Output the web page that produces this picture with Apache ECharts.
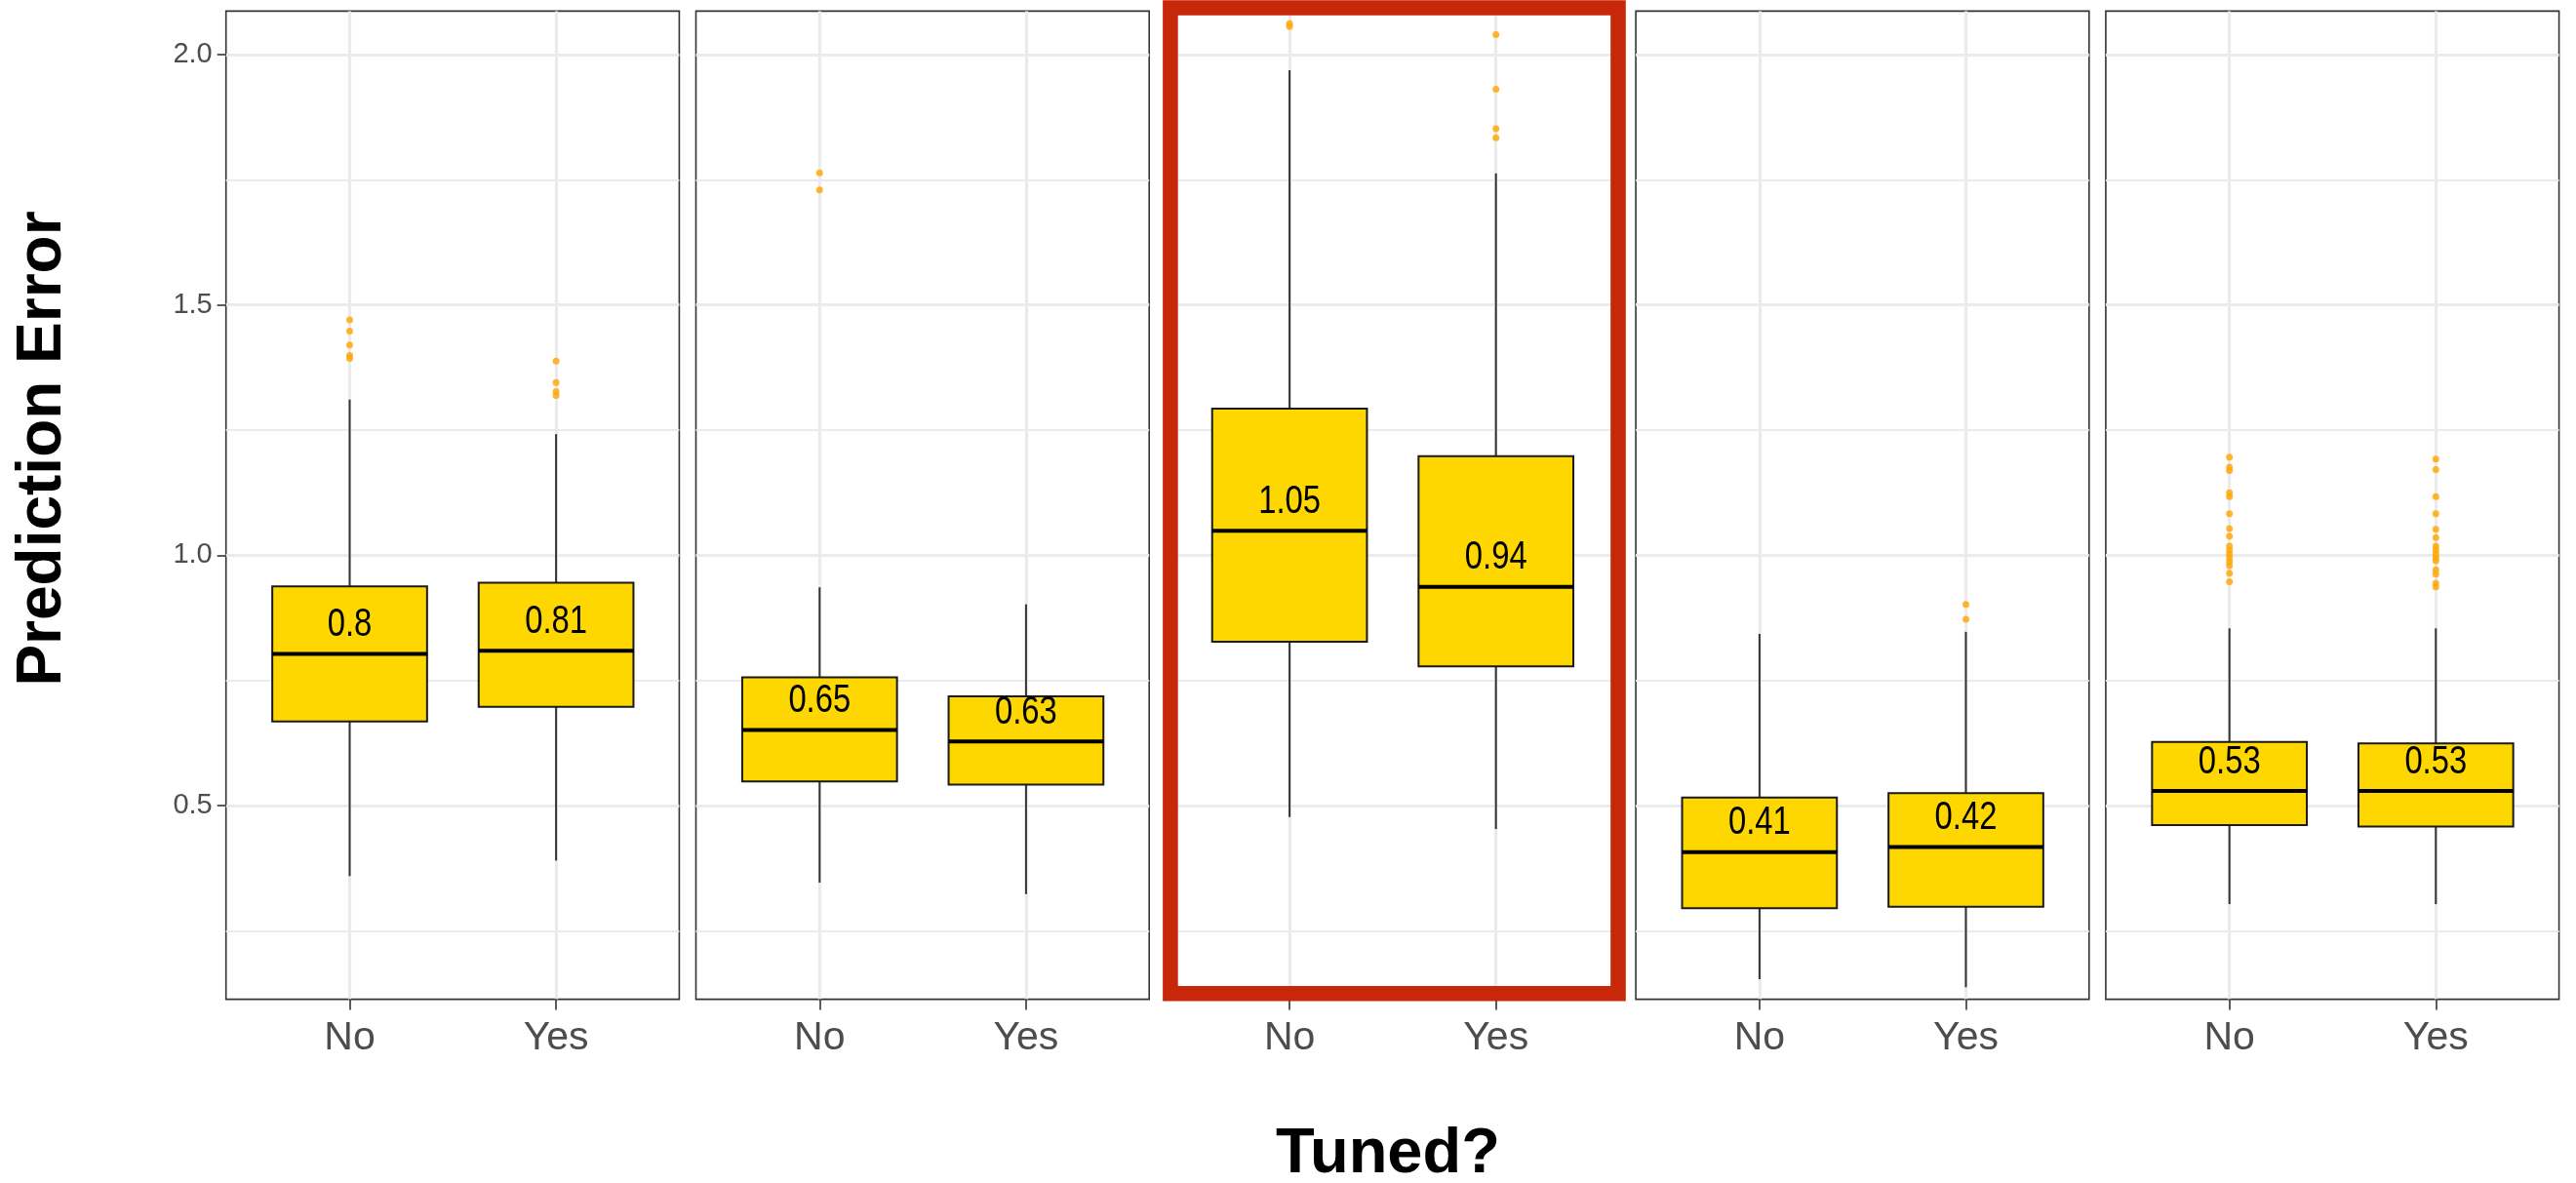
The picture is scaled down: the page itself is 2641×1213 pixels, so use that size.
<!DOCTYPE html>
<html>
<head>
<meta charset="utf-8">
<script src="https://cdn.jsdelivr.net/npm/echarts@6/dist/echarts.min.js"></script>
<style>
html,body{margin:0;padding:0;background:#fff;}
#chart{width:2641px;height:1213px;}
</style>
</head>
<body>
<div id="chart"></div>
<script>
// ---- data ----
const categories = ['No', 'Yes'];
const yMin = 0.113, yMax = 2.087;
const majorTicks = [0.5, 1.0, 1.5, 2.0];
const minorTicks = [0.25, 0.75, 1.25, 1.75];
const whiskerLow  = [[0.359, 0.390], [0.346, 0.323], [0.477, 0.453], [0.153, 0.137], [0.303, 0.303]];
const q1          = [[0.668, 0.697], [0.548, 0.542], [0.827, 0.778], [0.295, 0.298], [0.461, 0.458]];
const medians     = [[0.803, 0.809], [0.651, 0.628], [1.049, 0.937], [0.407, 0.417], [0.529, 0.529]];
const q3          = [[0.938, 0.945], [0.756, 0.718], [1.293, 1.198], [0.516, 0.525], [0.627, 0.624]];
const whiskerHigh = [[1.311, 1.242], [0.936, 0.902], [1.969, 1.763], [0.843, 0.847], [0.854, 0.854]];
const outliers = [
  [[1.470, 1.448, 1.420, 1.399, 1.393], [1.388, 1.345, 1.327, 1.319]],
  [[1.764, 1.730], []],
  [[2.062, 2.056], [2.040, 1.931, 1.852, 1.834]],
  [[], [0.902, 0.872]],
  [[1.196, 1.176, 1.169, 1.125, 1.117, 1.083, 1.053, 1.038, 1.018, 1.010, 1.002, 0.995, 0.987, 0.979, 0.964, 0.947],
   [1.192, 1.171, 1.117, 1.083, 1.052, 1.035, 1.018, 1.010, 1.002, 0.995, 0.989, 0.971, 0.962, 0.944, 0.937]]
];
const highlightPanel = 2;
const yTitle = 'Prediction Error';
const xTitle = 'Tuned?';

// ---- layout ----
const NARROW = "'Liberation Sans Narrow', 'Arial Narrow', 'Liberation Sans', sans-serif";
const BOLD = "'Liberation Sans', Arial, sans-serif";
const P0 = 231.7, PSTEP = 481.8, PW = 464.7, PTOP = 11.4, PH = 1013.2;
const INNER_OFF = 126.8, INNER_W = 211.6;

const grids = [], xAxes = [], yAxes = [], series = [];
const nPanels = medians.length;

for (let p = 0; p < nPanels; p++) {
  const L = P0 + p * PSTEP;
  grids.push({ left: L, top: PTOP, width: PW, height: PH, show: true,
    borderColor: '#333333', borderWidth: 1.6, backgroundColor: '#fff' });
  grids.push({ left: L + INNER_OFF, top: PTOP, width: INNER_W, height: PH, show: false });
  const gOuter = 2 * p, gInner = 2 * p + 1;

  xAxes.push({ type: 'value', gridIndex: gOuter, min: 0, max: 1, show: false });
  xAxes.push({ type: 'category', gridIndex: gInner, data: categories, boundaryGap: false,
    axisLine: { show: false },
    axisTick: { show: true, length: 11, lineStyle: { color: '#333333', width: 1.6 } },
    axisLabel: { show: true, color: '#4D4D4D', fontSize: 41, fontFamily: NARROW, margin: 20 },
    splitLine: { show: true, lineStyle: { color: '#EBEBEB', width: 3.2 } }
  });

  yAxes.push({ type: 'value', gridIndex: gOuter, min: yMin, max: yMax,
    axisLine: { show: false },
    axisTick: { show: p === 0, customValues: majorTicks, length: 9, lineStyle: { color: '#333333', width: 1.6 } },
    axisLabel: { show: p === 0, customValues: majorTicks, color: '#4D4D4D', fontSize: 29, fontFamily: NARROW,
      margin: 14, formatter: v => Number(v).toFixed(1) },
    splitLine: { show: true, lineStyle: { color: '#EBEBEB', width: 3.2 } }
  });
  yAxes.push({ type: 'value', gridIndex: gOuter, min: yMin, max: yMax, position: 'right',
    axisLine: { show: false },
    axisTick: { show: false, customValues: minorTicks },
    axisLabel: { show: false, customValues: minorTicks },
    splitLine: { show: true, lineStyle: { color: '#EBEBEB', width: 1.8 } }
  });
  yAxes.push({ type: 'value', gridIndex: gInner, min: yMin, max: yMax, show: false,
    splitLine: { show: false } });

  const boxData = categories.map((c, i) => [i, whiskerLow[p][i], q1[p][i], medians[p][i], q3[p][i], whiskerHigh[p][i]]);
  series.push({
    type: 'custom', xAxisIndex: 2 * p + 1, yAxisIndex: 3 * p + 2, z: 3,
    data: boxData,
    renderItem: function (params, api) {
      const x = api.value(0);
      const lo = api.coord([x, api.value(1)]);
      const b1 = api.coord([x, api.value(2)]);
      const md = api.coord([x, api.value(3)]);
      const b3 = api.coord([x, api.value(4)]);
      const hi = api.coord([x, api.value(5)]);
      const unit = api.size([1, 0])[0];
      const hw = unit * 0.75 / 2;
      const m = api.value(3);
      const label = String(Number(m.toFixed(2)));
      return {
        type: 'group',
        children: [
          { type: 'line', shape: { x1: hi[0], y1: hi[1], x2: b3[0], y2: b3[1] },
            style: { stroke: '#333333', lineWidth: 2 } },
          { type: 'line', shape: { x1: b1[0], y1: b1[1], x2: lo[0], y2: lo[1] },
            style: { stroke: '#333333', lineWidth: 2 } },
          { type: 'rect', shape: { x: b3[0] - hw, y: b3[1], width: 2 * hw, height: b1[1] - b3[1] },
            style: { fill: '#FFD700', stroke: '#1a1a1a', lineWidth: 2 } },
          { type: 'line', shape: { x1: md[0] - hw, y1: md[1], x2: md[0] + hw, y2: md[1] },
            style: { stroke: '#000000', lineWidth: 4 } },
          { type: 'text', x: md[0], y: md[1] - 29.5, scaleX: 0.82, scaleY: 1,
            style: { text: label, align: 'center', verticalAlign: 'middle', fontSize: 40,
              fontFamily: NARROW, fill: '#000000' } }
        ]
      };
    }
  });

  const outData = [];
  categories.forEach((c, i) => outliers[p][i].forEach(v => outData.push([i, v])));
  series.push({
    type: 'scatter', xAxisIndex: 2 * p + 1, yAxisIndex: 3 * p + 2, z: 4,
    symbol: 'circle', symbolSize: 7, itemStyle: { color: '#FFA500' },
    data: outData, silent: true
  });
}

const hlL = P0 + highlightPanel * PSTEP;
const graphic = [
  { type: 'rect', z: 100, shape: { x: hlL + 4.6, y: 8, width: 459.1, height: 1010.8 },
    style: { fill: 'none', stroke: '#C8280A', lineWidth: 15.6 } },
  { type: 'text', z: 100, x: 44.5, y: 460, rotation: Math.PI / 2,
    style: { text: yTitle, align: 'center', verticalAlign: 'middle', fontSize: 64, fontWeight: 'bold',
      fontFamily: BOLD, fill: '#000' } },
  { type: 'text', z: 100, x: 1423, y: 1184,
    style: { text: xTitle, align: 'center', verticalAlign: 'middle', fontSize: 65, fontWeight: 'bold',
      fontFamily: BOLD, fill: '#000' } }
];

const chart = echarts.init(document.getElementById('chart'), null, { renderer: 'canvas' });
chart.setOption({
  animation: false,
  backgroundColor: '#ffffff',
  grid: grids, xAxis: xAxes, yAxis: yAxes, series: series, graphic: graphic
});
</script>
</body>
</html>
